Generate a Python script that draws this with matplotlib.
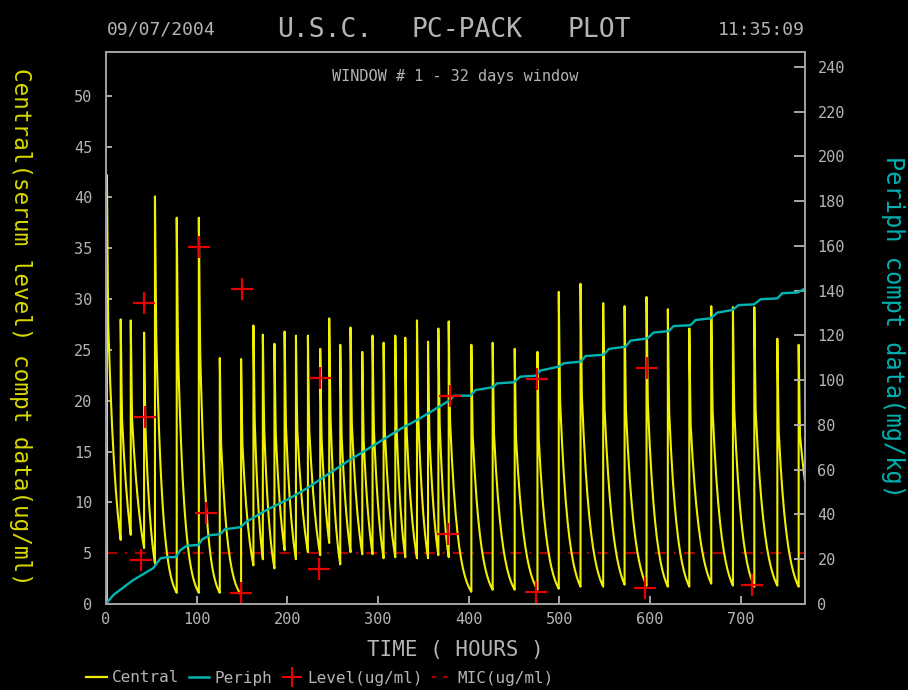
import numpy as np
import matplotlib
matplotlib.use("Agg")
import matplotlib.pyplot as plt
from matplotlib.lines import Line2D

# dosing record: dose time (h), peak level and level just before the next dose (ug/ml)
dose_h = [1, 16.2, 27.3, 42, 54, 78, 102.4, 125.5, 149, 162.6, 173, 185.8, 197,
          209.5, 222.7, 236.3, 246.2, 258.4, 269.7, 282.7, 294, 306.2, 319.1,
          330.1, 343, 355.2, 366.6, 378, 403, 426.5, 450.8, 475.9, 499.4, 523.4,
          548.4, 572, 596.2, 619.7, 643.4, 667.6, 691.5, 715.1, 740.5, 764]
peak_c = [42.2, 28.0, 27.9, 26.7, 40.1, 38.0, 38.0, 24.2, 24.1, 27.4, 26.5, 25.6,
          26.8, 26.4, 26.4, 25.1, 28.1, 25.5, 27.2, 24.8, 26.4, 25.7, 26.4, 26.2,
          27.9, 25.8, 27.1, 27.8, 25.5, 25.7, 25.1, 24.8, 30.7, 31.5, 29.6, 29.3,
          30.2, 29.0, 27.1, 29.3, 29.2, 29.2, 26.1, 25.5]
trough_c = [6.3, 6.8, 5.5, 4.0, 1.1, 1.1, 1.1, 0.9, 3.8, 4.4, 3.5, 5.3, 4.4, 5.1,
            4.8, 6.0, 3.9, 5.1, 4.9, 4.9, 4.5, 4.6, 4.6, 4.5, 4.5, 4.8, 4.6, 1.2,
            1.4, 1.4, 1.4, 1.5, 1.7, 1.7, 1.9, 1.8, 1.7, 1.7, 2.0, 1.8, 1.7, 1.8,
            1.7, 12.0]
end_h = 771

# peripheral compartment amount (mg/kg)
periph_h = [0, 8, 30, 52, 60, 67, 77, 82, 89, 102, 106, 115, 126, 131, 148, 155,
            177, 199.5, 221.6, 243.7, 265.8, 324.6, 343, 361.4, 379.8, 383.5, 402,
            407.4, 425.8, 431.4, 449.7, 457, 473.7, 479, 499.4, 505, 523.4, 529,
            549, 554.6, 573, 578.6, 597, 604, 620.8, 626, 644.8, 650.3, 667, 674.3,
            690.8, 698, 714.7, 722, 740.5, 746, 762.6, 771]
periph_v = [0, 4.0, 10.7, 16.0, 20.4, 20.9, 21.0, 24.1, 26.0, 26.4, 28.9, 30.8,
            31.2, 33.4, 34.3, 36.8, 42.0, 46.5, 51.7, 57.7, 63.6, 78.2, 82.2, 86.7,
            91.2, 93.1, 93.1, 95.6, 96.8, 98.6, 99.1, 101.6, 102.0, 104.3, 106.1,
            107.6, 108.3, 110.8, 111.4, 114.0, 115.0, 117.7, 118.7, 121.3, 122.0,
            124.2, 124.6, 126.9, 127.7, 130.2, 131.4, 133.6, 133.9, 136.2, 136.6,
            138.9, 139.2, 141.0]

# measured serum levels
level_h = [42, 42.7, 39, 102.7, 110, 150.5, 148.7, 236.3, 235.2, 379, 377.3,
           475.9, 474, 596.6, 594.4, 712.2]
level_c = [29.6, 18.4, 4.3, 35.1, 9.0, 31.0, 1.05, 22.2, 3.4, 20.5, 6.9, 22.1,
           1.2, 23.2, 1.6, 1.9]

mic = 5.0

YEL = "#f0f000"
CYAN = "#00b4b4"
RED = "#e80000"
DARKRED = "#a80000"
GREY = "#b4b4b4"


def central_curve(dose_h, peak_c, trough_c, end_h):
    # peak at each dose, fast distribution drop, then decay to the trough
    ts, cs = [0.0], [0.0]
    nxt = list(dose_h[1:]) + [end_h]
    for t0, p, tr, t1 in zip(dose_h, peak_c, trough_c, nxt):
        ts += [t0, t0]
        cs += [cs[-1], p]
        q = 0.65 * p
        ta = t0 + 1.5
        f = np.linspace(0, 1, 4)[1:]
        ts += list(t0 + f * 1.5)
        cs += list(p * (q / p) ** f)
        n = max(int(t1 - ta), 2)
        f = np.linspace(0, 1, n + 1)[1:]
        ts += list(ta + f * (t1 - ta))
        cs += list(q * (tr / q) ** f)
    return np.array(ts), np.array(cs)


plt.rcParams["font.family"] = "DejaVu Sans Mono"

W, H = 908, 690
fig = plt.figure(figsize=(W / 100, H / 100), dpi=100, facecolor="black")
ax = fig.add_axes([106 / W, 1 - 604 / H, (805 - 106) / W, (604 - 52) / H])
ax.set_facecolor("black")
ax2 = ax.twinx()

t, c = central_curve(dose_h, peak_c, trough_c, end_h)
ax.axhline(mic, color=DARKRED, lw=1.6, dashes=(5, 3.5, 1, 3.5))
ax.plot(t, c, color=YEL, lw=1.5)
ax2.plot(periph_h, periph_v, color=CYAN, lw=1.7)
ax2.plot(level_h, level_c, "+", color=RED, ms=16, mew=1.6,
         transform=ax.transData)

ax.set_xlim(0, end_h)
ax.set_ylim(0, 54.3)
ax2.set_ylim(0, 246.7)
ax.set_xticks(range(0, 701, 100))
ax.set_yticks(range(0, 51, 5))
ax2.set_yticks(range(0, 241, 20))

ax.tick_params(axis="y", direction="in", length=4, width=1.3, colors=GREY,
               labelsize=11, pad=10)
ax.tick_params(axis="x", direction="in", length=6, width=1.3, colors=GREY,
               labelsize=11, pad=6)
ax2.tick_params(axis="y", direction="in", length=8, width=1.3, colors=GREY,
                labelsize=11, pad=9)
for a in (ax, ax2):
    for s in a.spines.values():
        s.set_color("#a0a0a0")
        s.set_linewidth(1.3)

# header line
fig.text(107 / W, 1 - 30 / H, "09/07/2004", color=GREY, fontsize=13,
         ha="left", va="center")
fig.text(805 / W, 1 - 30 / H, "11:35:09", color=GREY, fontsize=13,
         ha="right", va="center")
for s, x in (("U.S.C.", 324.5), ("PC-PACK", 467.5), ("PLOT", 599)):
    fig.text(x / W, 1 - 30 / H, s, color=GREY, fontsize=19, ha="center",
             va="center")

ax.text(0.5, 0.955, "WINDOW # 1 - 32 days window", transform=ax.transAxes,
        color=GREY, fontsize=11, ha="center", va="center")

fig.text(455 / W, 1 - 650 / H, "TIME ( HOURS )", color=GREY, fontsize=15,
         ha="center", va="center")
fig.text(20 / W, 1 - 327 / H, "Central(serum level) compt data(ug/ml)",
         color="#d8d800", fontsize=16.3, rotation=-90, ha="center", va="center")
fig.text(893 / W, 1 - 327 / H, "Periph compt data(mg/kg)", color="#00b0b0",
         fontsize=17, rotation=-90, ha="center", va="center")

handles = [
    Line2D([], [], color=YEL, lw=1.6),
    Line2D([], [], color=CYAN, lw=1.8),
    Line2D([], [], color=RED, marker="+", ls="none", ms=15, mew=1.5),
    Line2D([], [], color=DARKRED, lw=1.6, dashes=(2, 3)),
]
labels = ["Central", "Periph", "Level(ug/ml)", "MIC(ug/ml)"]
fig.legend(handles, labels, loc="center left", bbox_to_anchor=(86 / W, 1 - 678 / H),
           ncol=4, frameon=False, fontsize=11.5, labelcolor=GREY,
           handlelength=1.3, handletextpad=0.3, columnspacing=0.6,
           borderpad=0, borderaxespad=0)

fig.savefig("out.png", dpi=100, facecolor="black")
